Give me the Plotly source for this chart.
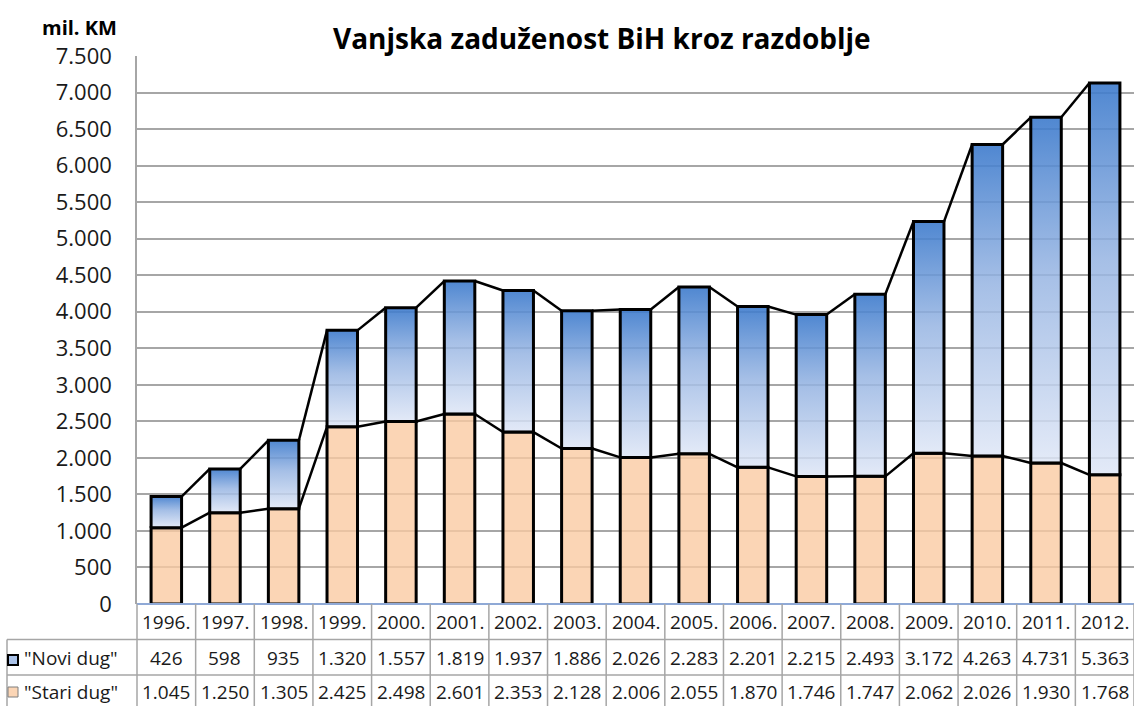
import plotly.graph_objects as go

years = ["1996.", "1997.", "1998.", "1999.", "2000.", "2001.", "2002.", "2003.", "2004.",
         "2005.", "2006.", "2007.", "2008.", "2009.", "2010.", "2011.", "2012."]
novi_dug = [426, 598, 935, 1320, 1557, 1819, 1937, 1886, 2026, 2283, 2201, 2215, 2493, 3172, 4263, 4731, 5363]
stari_dug = [1045, 1250, 1305, 2425, 2498, 2601, 2353, 2128, 2006, 2055, 1870, 1746, 1747, 2062, 2026, 1930, 1768]
y_ticks = [0, 500, 1000, 1500, 2000, 2500, 3000, 3500, 4000, 4500, 5000, 5500, 6000, 6500, 7000, 7500]

W, H = 1134, 706
PLOT_L, PLOT_R, PLOT_T, PLOT_B = 137, 1134, 56, 604  # screen pixels
ML, MR, MT, MB = PLOT_L, W - PLOT_R, PLOT_T, H - PLOT_B
PW, PH = PLOT_R - PLOT_L, PLOT_B - PLOT_T
N = len(years)
BW = 0.52
FONT = "Open Sans"


def fmt(v):
    return f"{v:,}".replace(",", ".")


def sy(p):
    """screen pixel y -> paper y"""
    return (PLOT_B - p) / PH


def sx(p):
    """screen pixel x -> paper x"""
    return (p - PLOT_L) / PW


fig = go.Figure()
xs = list(range(N))

# Stari dug bars
fig.add_trace(go.Bar(
    x=xs, y=stari_dug, width=BW,
    marker=dict(color="rgba(250,203,163,0.8)", line=dict(color="black", width=3)),
    name='"Stari dug"', showlegend=False, hoverinfo="skip",
))

# Novi dug bars with vertical gradient
for i, (s, n) in enumerate(zip(stari_dug, novi_dug)):
    x0, x1 = i - BW / 2, i + BW / 2
    fig.add_trace(go.Scatter(
        x=[x0, x1, x1, x0, x0], y=[s, s, s + n, s + n, s],
        mode="lines", fill="toself",
        fillgradient=dict(type="vertical",
                          colorscale=[[0, "rgba(222,230,246,0.85)"],
                                      [0.55, "rgba(150,180,226,0.85)"],
                                      [1, "rgba(60,122,204,0.9)"]]),
        line=dict(color="black", width=3),
        showlegend=False, hoverinfo="skip",
    ))

# Series lines
totals = [s + n for s, n in zip(stari_dug, novi_dug)]
for series in (totals, stari_dug):
    lx, ly = [], []
    for i in range(N - 1):
        lx += [i + BW / 2, i + 1 - BW / 2, None]
        ly += [series[i], series[i + 1], None]
    fig.add_trace(go.Scatter(x=lx, y=ly, mode="lines", line=dict(color="black", width=2.5),
                             showlegend=False, hoverinfo="skip"))

shapes = []
annotations = []
grid_c = "#a6a6a6"

# x axis line (blue-grey)
shapes.append(dict(type="line", xref="paper", yref="paper", x0=0, x1=1, y0=0, y1=0,
                   line=dict(color="#8fa9d6", width=2)))

# Data table
for ry in (639.5, 675):
    shapes.append(dict(type="line", xref="paper", yref="paper",
                       x0=sx(7), x1=1, y0=sy(ry), y1=sy(ry),
                       line=dict(color=grid_c, width=1.5)))
shapes.append(dict(type="line", xref="paper", yref="paper",
                   x0=sx(7), x1=sx(7), y0=sy(639.5), y1=sy(712),
                   line=dict(color=grid_c, width=1.5)))
for k in range(N + 1):
    xp = k / N
    shapes.append(dict(type="line", xref="paper", yref="paper",
                       x0=xp, x1=xp, y0=0, y1=sy(712),
                       line=dict(color=grid_c, width=1.5)))

tfont = dict(family=FONT, size=19, color="#1a1a1a")
for i in range(N):
    annotations.append(dict(x=i, y=sy(622), xref="x", yref="paper", text=years[i],
                            showarrow=False, font=tfont, xanchor="center", yanchor="middle"))
    annotations.append(dict(x=i, y=sy(657.5), xref="x", yref="paper", text=fmt(novi_dug[i]),
                            showarrow=False, font=tfont, xanchor="center", yanchor="middle"))
    annotations.append(dict(x=i, y=sy(692), xref="x", yref="paper", text=fmt(stari_dug[i]),
                            showarrow=False, font=tfont, xanchor="center", yanchor="middle"))

# legend keys in table
annotations.append(dict(x=sx(22), y=sy(657.5), xref="paper", yref="paper",
                        text='"Novi dug"', showarrow=False, font=tfont,
                        xanchor="left", yanchor="middle"))
annotations.append(dict(x=sx(22), y=sy(692), xref="paper", yref="paper",
                        text='"Stari dug"', showarrow=False, font=tfont,
                        xanchor="left", yanchor="middle"))
shapes.append(dict(type="rect", xref="paper", yref="paper",
                   x0=sx(8), x1=sx(18), y0=sy(665), y1=sy(655),
                   fillcolor="#aac2e8", line=dict(color="black", width=2)))
shapes.append(dict(type="rect", xref="paper", yref="paper",
                   x0=sx(8), x1=sx(18), y0=sy(697), y1=sy(687),
                   fillcolor="#fbd5b5", line=dict(color="#7f7f7f", width=1)))

# Title and unit label
annotations.append(dict(x=sx(602), y=sy(38), xref="paper", yref="paper",
                        text="<b>Vanjska zaduženost BiH kroz razdoblje</b>", showarrow=False,
                        font=dict(family=FONT, size=28, color="black"),
                        xanchor="center", yanchor="middle"))
annotations.append(dict(x=sx(79), y=sy(27), xref="paper", yref="paper",
                        text="<b>mil. KM</b>", showarrow=False,
                        font=dict(family=FONT, size=20, color="black"),
                        xanchor="center", yanchor="middle"))

fig.update_layout(
    width=W, height=H,
    margin=dict(l=ML, r=MR, t=MT, b=MB, pad=0),
    paper_bgcolor="white", plot_bgcolor="white",
    separators=",.",
    barmode="overlay",
    showlegend=False,
    shapes=shapes, annotations=annotations,
    xaxis=dict(range=[-0.5, N - 0.5], showticklabels=False, showgrid=False,
               zeroline=False, showline=False, ticks="", fixedrange=True),
    yaxis=dict(range=[0, 7500], tickvals=y_ticks, tickformat=",d",
               showgrid=True, gridcolor=grid_c, gridwidth=1.5,
               zeroline=False, showline=True, linecolor=grid_c, linewidth=1.5,
               ticks="", ticklabelstandoff=19,
               tickfont=dict(family=FONT, size=22, color="#1a1a1a")),
)

fig.write_html(
    "out.html",
    config={"displayModeBar": False},
    post_script="document.body.style.margin='0';document.body.style.overflow='hidden';",
)
